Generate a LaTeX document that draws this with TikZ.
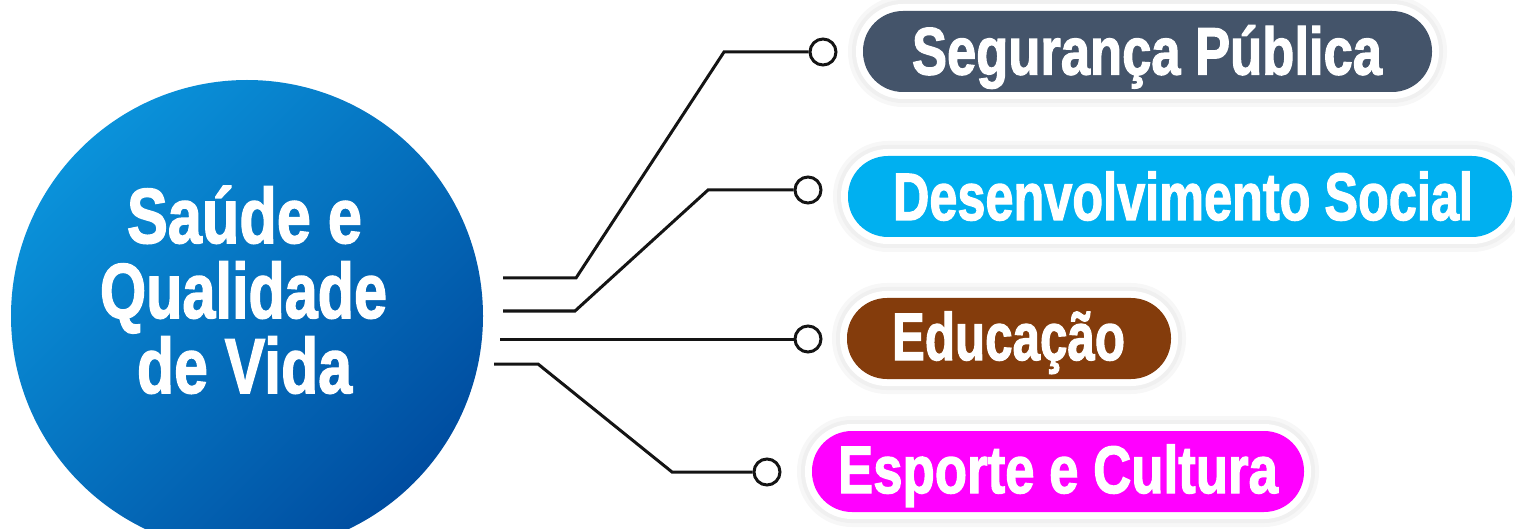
\documentclass[tikz,border=0pt]{standalone}
\usepackage{fontspec}
\setmainfont{Liberation Sans}
\newfontfamily\heavyfont[FakeBold=2]{Liberation Sans Bold}
\usepackage{graphicx}
\definecolor{segc}{HTML}{44546A}
\definecolor{desc}{HTML}{00B0F0}
\definecolor{eduto}{HTML}{843C0C}
\definecolor{espc}{HTML}{FF00FF}
\definecolor{hubA}{HTML}{0A92DA}
\definecolor{hubB}{HTML}{004DA0}
\definecolor{linec}{HTML}{141414}
\newcommand{\pillfont}{\heavyfont\fontsize{67}{67}\selectfont}
\newcommand{\hubfont}{\heavyfont\fontsize{78}{78}\selectfont}
\newcommand{\fitw}[2]{\resizebox{#1pt}{\height}{#2}}
\begin{document}
\begin{tikzpicture}[x=1pt,y=-1pt,
  pillbox/.style={rectangle, rounded corners=40pt, inner sep=0pt, minimum height=81pt,
    preaction={draw=black!3, line width=30pt},
    preaction={draw=black!6, line width=22pt},
    preaction={draw=white, line width=14pt}},
  lbl/.style={text=white, font=\pillfont, anchor=base, inner sep=0pt},
  hublbl/.style={text=white, font=\hubfont, anchor=base, inner sep=0pt},
  conn/.style={line width=3pt, draw=linec, line join=miter},
  dot/.style={circle, draw=linec, line width=3pt, fill=white, minimum size=26pt, inner sep=0pt}]
\useasboundingbox (0,0) rectangle (1515,529);
\clip (0,0) rectangle (1515,529);
% hub circle
\node[circle, minimum size=472pt, inner sep=0pt, top color=hubA, bottom color=hubB, shading angle=45] (hub) at (247,316) {};
\node[hublbl] (h1) at (244.5,243) {\fitw{235}{Saúde e}};
\node[hublbl] (h2) at (243.5,318) {\fitw{287}{Qualidade}};
\node[hublbl] (h3) at (244.5,393) {\fitw{215}{de Vida}};
% pills
\node[pillbox, fill=segc, minimum width=569pt] (p1) at (1147.5,51.5) {};
\node[pillbox, fill=desc, minimum width=664pt] (p2) at (1180,196.5) {};
\node[pillbox, fill=eduto, minimum width=324pt] (p3) at (1009,338.5) {};
\node[pillbox, fill=espc, minimum width=492pt] (p4) at (1058,471.5) {};
\node[lbl] (t1) at (1147,74.5) {\fitw{470}{Segurança Pública}};
\node[lbl] (t2) at (1183,220) {\fitw{580}{Desenvolvimento Social}};
\node[lbl] (t3) at (1008.5,360) {\fitw{233}{Educação}};
\node[lbl] (t4) at (1058,493) {\fitw{440}{Esporte e Cultura}};
% markers
\node[dot] (m1) at (823,52) {};
\node[dot] (m2) at (808,190) {};
\node[dot] (m3) at (808,339) {};
\node[dot] (m4) at (767,472) {};
% connector points
\coordinate (s1) at (503,278); \coordinate (k1) at (576,278); \coordinate (u1) at (724,52);
\coordinate (s2) at (503,311); \coordinate (k2) at (575,311); \coordinate (u2) at (708,190);
\coordinate (s3) at (500,339);
\coordinate (s4) at (494,364); \coordinate (k4) at (538,364); \coordinate (u4) at (672,472);
\draw[conn] (s1) -- (k1) -- (u1) -- (m1.west);
\draw[conn] (s2) -- (k2) -- (u2) -- (m2.west);
\draw[conn] (s3) -- (m3.west);
\draw[conn] (s4) -- (k4) -- (u4) -- (m4.west);
\end{tikzpicture}
\end{document}
